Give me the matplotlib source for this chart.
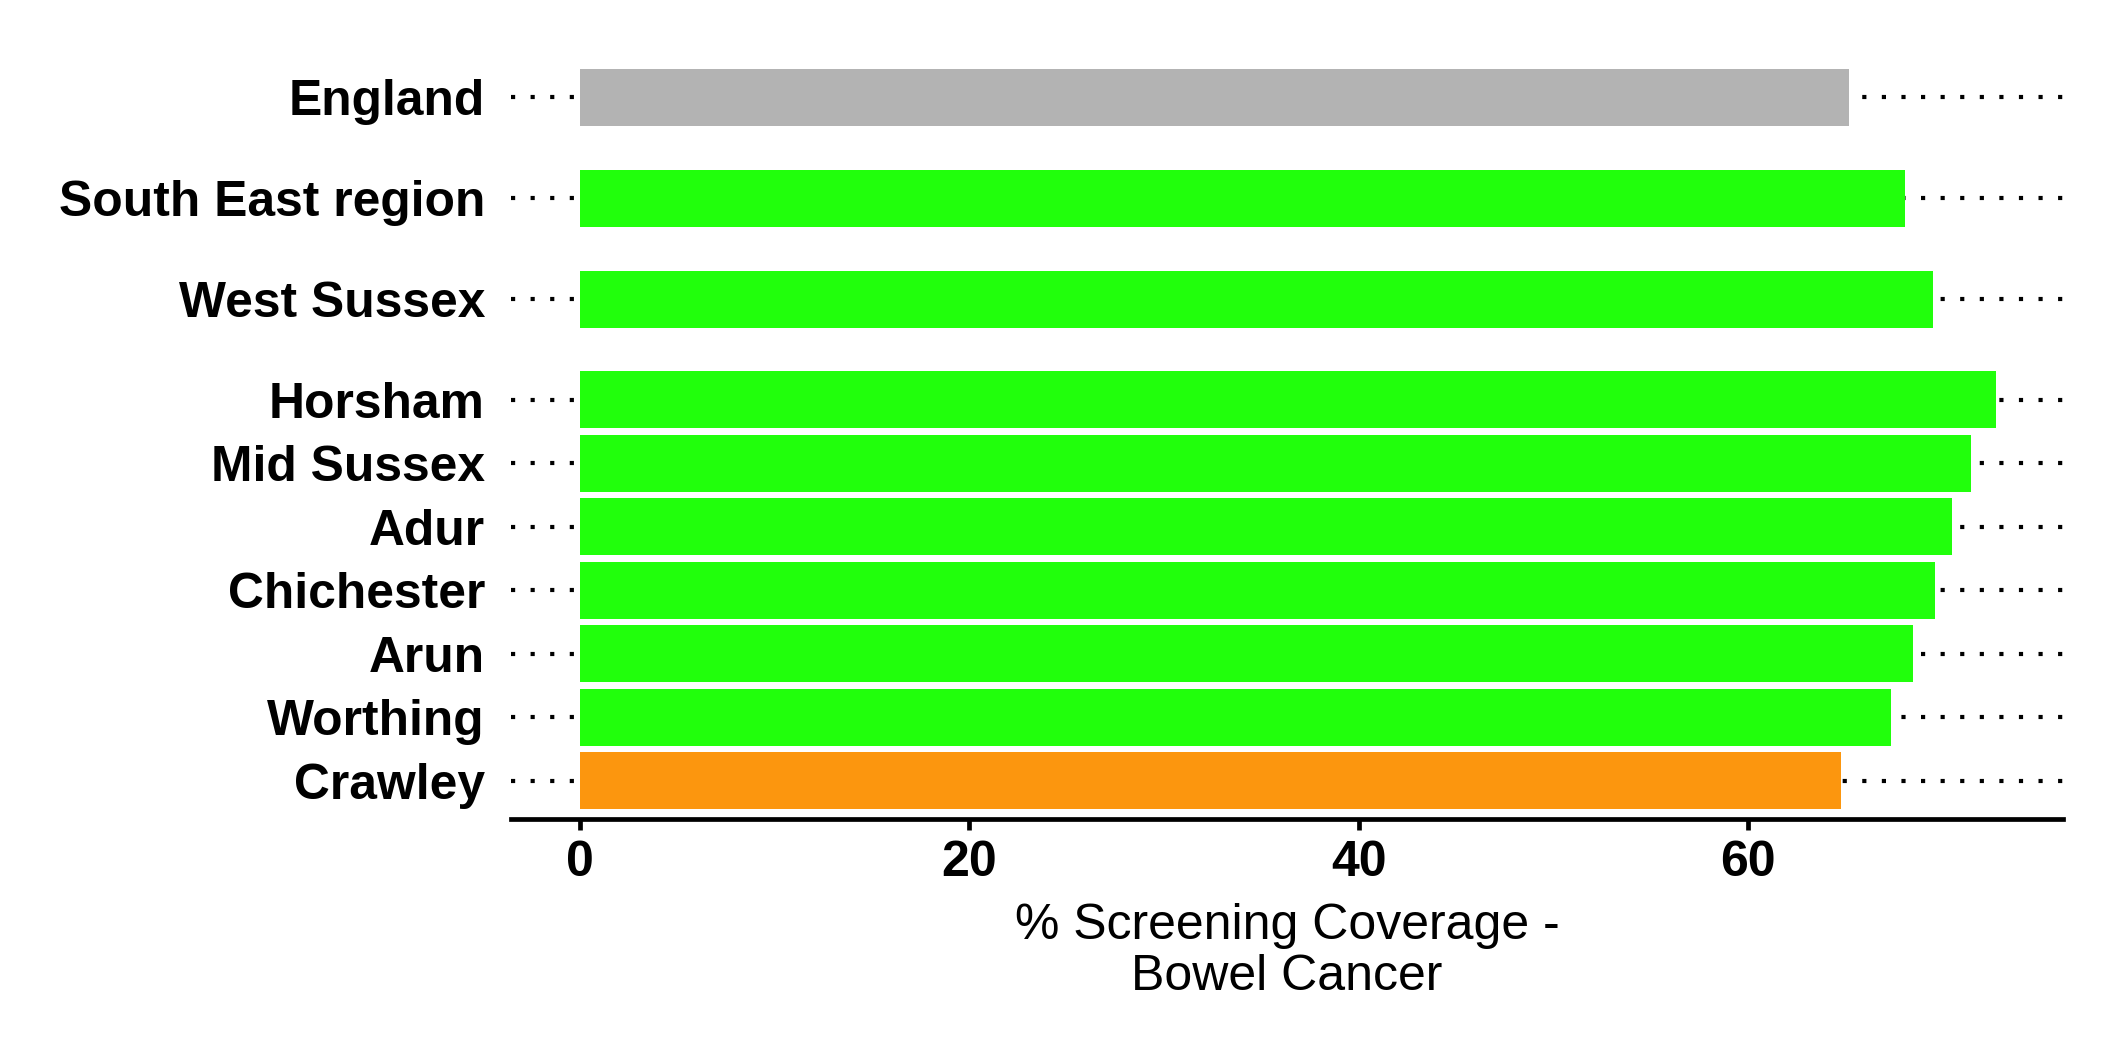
import matplotlib.pyplot as plt
import numpy as np

plt.rcParams["font.family"] = ["Liberation Sans", "DejaVu Sans"]

# areas listed top to bottom
areas = ["England", "South East region", "West Sussex", "Horsham", "Mid Sussex",
         "Adur", "Chichester", "Arun", "Worthing", "Crawley"]
coverage = [65.2, 68.1, 69.5, 72.75, 71.5, 70.5, 69.6, 68.5, 67.35, 64.8]
status = ["england", "better", "better", "better", "better",
          "better", "better", "better", "better", "worse"]

colours = {"england": "#b3b3b3", "better": "#21ff0c", "worse": "#fc960e"}

# districts sit one unit apart, the three summary rows have a wider gap
n_district = 7
header_gap = 1.59
ys = []
y = 0.0
for i in range(len(areas)):
    ys.append(y)
    y += 1.0 if i < n_district - 1 else header_gap
ys = ys[::-1]

fig = plt.figure(figsize=(10.625, 5.31), dpi=200)
ax = fig.add_axes([0.2405, 0.2288, 0.7303, 0.7156])

xmin, xmax = -3.55, 76.2
for yy in ys:
    ax.plot([xmin, xmax], [yy, yy], color="black", lw=1.5,
            linestyle=(0, (1, 3.7)), dash_capstyle="butt", zorder=1)

ax.barh(ys, coverage, height=0.898,
        color=[colours[s] for s in status], zorder=2)

ax.set_xlim(xmin, xmax)
ax.set_ylim(-0.6, ys[0] + 0.6)
ax.set_yticks(ys)
ax.set_yticklabels(areas, fontsize=17.9, fontweight="bold")
ax.set_xticks([0, 20, 40, 60])
ax.set_xticklabels(["0", "20", "40", "60"], fontsize=18, fontweight="bold")

for side in ["left", "top", "right"]:
    ax.spines[side].set_visible(False)
ax.spines["bottom"].set_linewidth(1.7)
ax.tick_params(axis="y", length=0, pad=9.4)
ax.tick_params(axis="x", length=4, width=1.7, pad=3.5)

ax.set_xlabel("% Screening Coverage -\nBowel Cancer", fontsize=18,
              linespacing=1.15)
ax.xaxis.set_label_coords(0.5, -0.11)

fig.savefig("out.png")
